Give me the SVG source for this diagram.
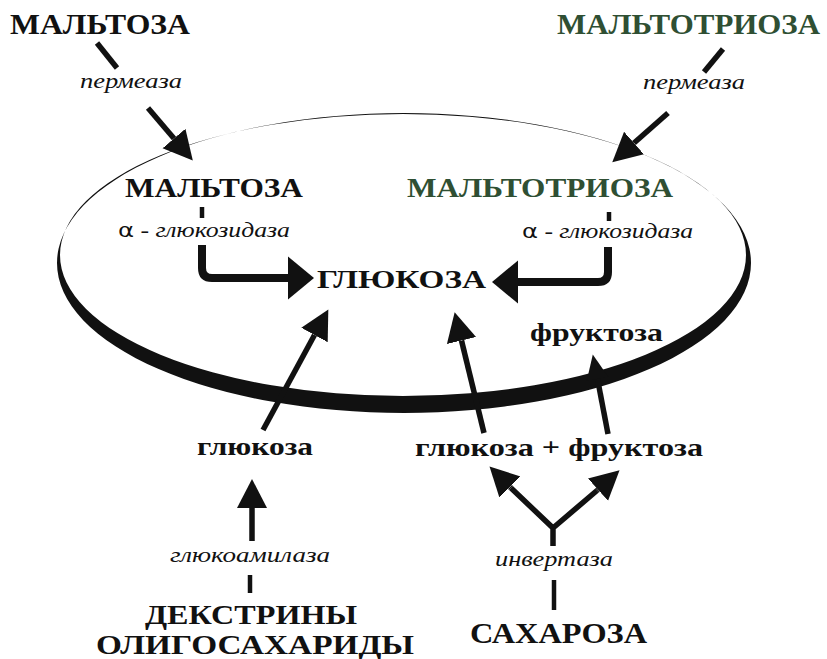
<svg xmlns="http://www.w3.org/2000/svg" width="827" height="659" viewBox="0 0 827 659">
<defs>
<style>
.t{font-family:"Liberation Serif","Times New Roman",serif;font-weight:bold;fill:#111}
.g{fill:#2f4f33}
.e{font-family:"Liberation Serif","Times New Roman",serif;font-style:italic;fill:#111}
.ln{stroke:#111;fill:none;stroke-width:5.5}
.bent{stroke:#111;fill:none;stroke-width:8;stroke-linejoin:round}
.dash{stroke:#111;stroke-width:4.5}
</style>
<marker id="ah" markerUnits="userSpaceOnUse" markerWidth="30" markerHeight="32" refX="0" refY="15" orient="auto" viewBox="0 0 30 30">
<path d="M0,0 L29,15 L0,30 Z" fill="#111"/>
</marker>
<marker id="ahs" markerUnits="userSpaceOnUse" markerWidth="26" markerHeight="24" refX="0" refY="11" orient="auto" viewBox="0 0 26 22">
<path d="M0,0 L25,11 L0,22 Z" fill="#111"/>
</marker>
<marker id="ahb" markerUnits="userSpaceOnUse" markerWidth="27" markerHeight="44" refX="0" refY="21.5" orient="auto" viewBox="0 0 27 43">
<path d="M0,0 L26,21.5 L0,43 Z" fill="#111"/>
</marker>
</defs>
<rect width="827" height="659" fill="#fff"/>

<g id="cell">
<path fill="#111" fill-rule="evenodd" d="M57,263 a347,150 0 1,0 694,0 a347,150 0 1,0 -694,0 Z M60,255 a343,141 0 1,0 686,0 a343,141 0 1,0 -686,0 Z"/>
</g>

<g id="connectors">
<line class="ln" x1="97" y1="43" x2="117" y2="68"/>
<line class="ln" x1="148" y1="108" x2="174" y2="138.5" marker-end="url(#ah)"/>
<line class="ln" x1="723" y1="49" x2="704" y2="72"/>
<line class="ln" x1="668" y1="113" x2="634" y2="143" marker-end="url(#ah)"/>
<line class="dash" x1="202" y1="207" x2="202" y2="218"/>
<path class="bent" d="M202,245 V268 Q202,278 212,278 H288" marker-end="url(#ahb)"/>
<line class="dash" x1="609" y1="212" x2="609" y2="221"/>
<path class="bent" d="M608,247 V272 Q608,282 598,282 H518" marker-end="url(#ahb)"/>
<line class="ln" x1="263" y1="430" x2="314.5" y2="335" marker-end="url(#ah)"/>
<line class="ln" x1="484" y1="433" x2="461.5" y2="340.5" marker-end="url(#ah)"/>
<line class="ln" x1="608" y1="434" x2="597.5" y2="379" marker-end="url(#ahs)"/>
<line class="ln" x1="252" y1="541" x2="252" y2="508" marker-end="url(#ah)"/>
<line class="dash" x1="250" y1="575" x2="250" y2="593"/>
<path class="ln" d="M553,546 V528 L511,488 M553,528 L597,490.5" stroke-linejoin="miter"/>
<line class="ln" x1="511" y1="488" x2="510" y2="487" marker-end="url(#ah)"/>
<line class="ln" x1="597" y1="490.5" x2="598" y2="489.6" marker-end="url(#ah)"/>
<line class="dash" x1="554" y1="580" x2="554" y2="610" stroke-width="5"/>
</g>

<g id="maltose-out"><text class="t" x="10" y="34" font-size="30" textLength="180" lengthAdjust="spacingAndGlyphs">МАЛЬТОЗА</text></g>
<g id="maltotriose-out"><text class="t g" x="557" y="34" font-size="30" textLength="263" lengthAdjust="spacingAndGlyphs">МАЛЬТОТРИОЗА</text></g>
<g id="permease-left"><text class="e" x="80" y="88" font-size="20" textLength="102" lengthAdjust="spacingAndGlyphs">пермеаза</text></g>
<g id="permease-right"><text class="e" x="643" y="89" font-size="20" textLength="102" lengthAdjust="spacingAndGlyphs">пермеаза</text></g>
<g id="maltose-in"><text class="t" x="125" y="197" font-size="28" textLength="178" lengthAdjust="spacingAndGlyphs">МАЛЬТОЗА</text></g>
<g id="maltotriose-in"><text class="t g" x="407" y="197" font-size="28" textLength="266" lengthAdjust="spacingAndGlyphs">МАЛЬТОТРИОЗА</text></g>
<g id="glucosidase-left"><text class="e" x="118" y="237" font-size="20" textLength="172" lengthAdjust="spacingAndGlyphs"><tspan font-style="normal" font-family="DejaVu Sans" font-size="19">α</tspan> - глюкозидаза</text></g>
<g id="glucosidase-right"><text class="e" x="522" y="238" font-size="20" textLength="171" lengthAdjust="spacingAndGlyphs"><tspan font-style="normal" font-family="DejaVu Sans" font-size="19">α</tspan> - глюкозидаза</text></g>
<g id="glucose-center"><text class="t" x="317" y="288" font-size="26" textLength="169" lengthAdjust="spacingAndGlyphs">ГЛЮКОЗА</text></g>
<g id="fructose-in"><text class="t" x="530" y="341" font-size="25" textLength="133" lengthAdjust="spacingAndGlyphs">фруктоза</text></g>
<g id="glucose-out"><text class="t" x="197" y="455" font-size="26" textLength="116" lengthAdjust="spacingAndGlyphs">глюкоза</text></g>
<g id="glucose-fructose"><text class="t" x="415" y="456" font-size="26" textLength="288" lengthAdjust="spacingAndGlyphs">глюкоза + фруктоза</text></g>
<g id="glucoamylase"><text class="e" x="170" y="562" font-size="20" textLength="160" lengthAdjust="spacingAndGlyphs">глюкоамилаза</text></g>
<g id="invertase"><text class="e" x="495" y="566" font-size="20" textLength="118" lengthAdjust="spacingAndGlyphs">инвертаза</text></g>
<g id="dextrins"><text class="t" x="145" y="624" font-size="27" textLength="212" lengthAdjust="spacingAndGlyphs">ДЕКСТРИНЫ</text><text class="t" x="96" y="654" font-size="27" textLength="318" lengthAdjust="spacingAndGlyphs">ОЛИГОСАХАРИДЫ</text></g>
<g id="sucrose"><text class="t" x="470" y="643" font-size="29" textLength="177" lengthAdjust="spacingAndGlyphs">САХАРОЗА</text></g>
</svg>
